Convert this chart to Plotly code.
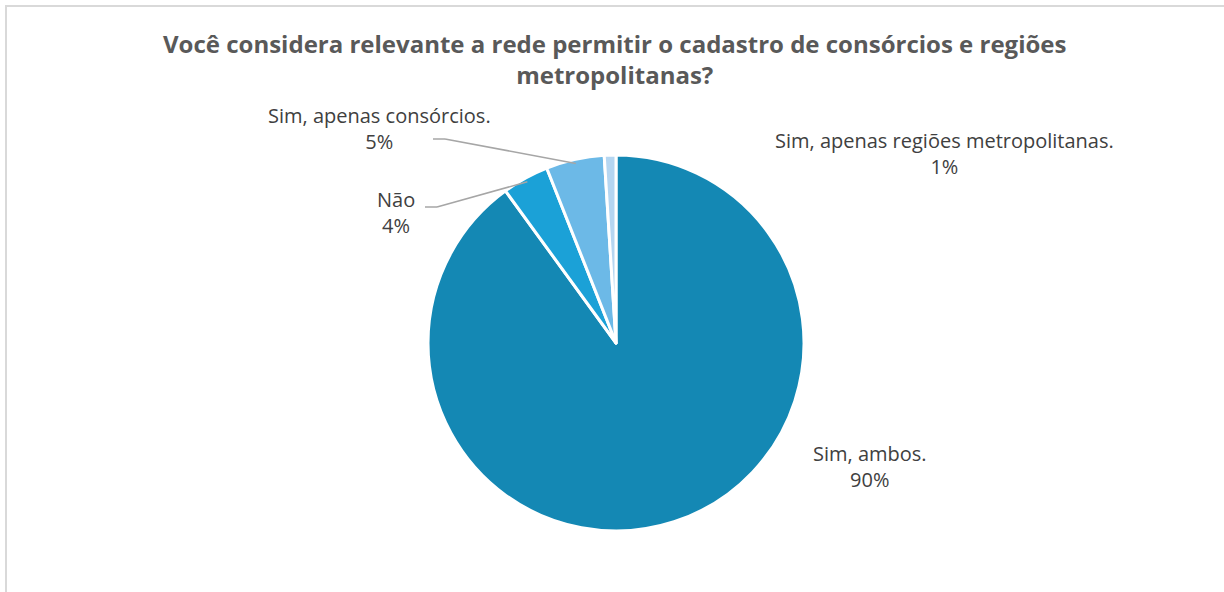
import math
import plotly.graph_objects as go

# ---- data ----
categories = ["Sim, ambos.", "Não", "Sim, apenas consórcios.", "Sim, apenas regiões metropolitanas."]
values = [90, 4, 5, 1]
colors = ["#1488B4", "#1BA1D7", "#6CB9E7", "#B5D6F1"]

W, H = 1224, 592
CX, CY, R = 616, 343, 188


def px(x):
    return x / W


def py(y):
    return 1 - y / H


fig = go.Figure(go.Pie(
    labels=categories,
    values=values,
    sort=False,
    direction="clockwise",
    rotation=0,
    marker=dict(colors=colors, line=dict(color="white", width=3)),
    textinfo="none",
    hoverinfo="label+percent",
    showlegend=False,
    domain=dict(x=[px(CX - R), px(CX + R)], y=[py(CY + R), py(CY - R)]),
))

# label placement (pixel centres) and leader-line elbow
label_pos = {
    "Sim, ambos.": (870, 466, None),
    "Não": (396, 212, (437, 207)),
    "Sim, apenas consórcios.": (379, 129, (445, 139)),
    "Sim, apenas regiões metropolitanas.": (944, 153, None),
}

total = sum(values)
annotations = []
shapes = []
cum = 0
for cat, v in zip(categories, values):
    mid = (cum + v / 2) / total * 2 * math.pi
    cum += v
    pct = round(v / total * 100)
    lx, ly, leader = label_pos[cat]
    annotations.append(dict(
        x=px(lx), y=py(ly), xref="paper", yref="paper",
        text=f"{cat}<br>{pct}%", showarrow=False,
        font=dict(family="Open Sans, sans-serif", size=20, color="#404040"),
        align="center", xanchor="center", yanchor="middle",
    ))
    if leader is not None:
        ex = CX + (R - 4) * math.sin(mid)
        ey = CY - (R - 4) * math.cos(mid)
        sx, sy = leader
        shapes.append(dict(type="line", xref="paper", yref="paper",
                           x0=px(sx - 12), y0=py(sy), x1=px(sx), y1=py(sy),
                           line=dict(color="#A6A6A6", width=1.5)))
        shapes.append(dict(type="line", xref="paper", yref="paper",
                           x0=px(sx), y0=py(sy), x1=px(ex), y1=py(ey),
                           line=dict(color="#A6A6A6", width=1.5)))

# chart border (cut off at right / bottom as in reference)
shapes.append(dict(type="rect", xref="paper", yref="paper",
                   x0=px(6), y0=py(620), x1=px(1250), y1=py(6),
                   line=dict(color="#D9D9D9", width=2), layer="below"))

annotations.append(dict(
    x=px(615), y=py(59), xref="paper", yref="paper",
    text="<b>Você considera relevante a rede permitir o cadastro de consórcios e regiões<br>metropolitanas?</b>",
    showarrow=False, align="center", xanchor="center", yanchor="middle",
    font=dict(family="Open Sans, sans-serif", size=24, color="#595959"),
))

fig.update_layout(
    width=W, height=H,
    margin=dict(l=0, r=0, t=0, b=0),
    paper_bgcolor="white",
    plot_bgcolor="white",
    annotations=annotations,
    shapes=shapes,
)

fig.write_html("out.html")
